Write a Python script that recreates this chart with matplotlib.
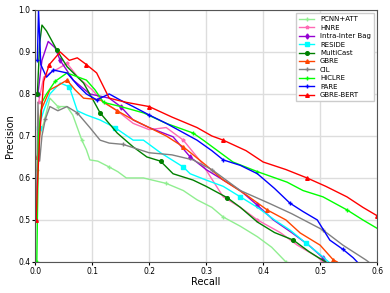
import matplotlib.pyplot as plt

# precision / recall points
pcnn_r = [0.004, 0.008, 0.015, 0.026, 0.04, 0.056, 0.066, 0.074, 0.082, 0.09, 0.096, 0.11, 0.13, 0.145, 0.16, 0.19, 0.23, 0.26, 0.284, 0.31, 0.33, 0.36, 0.39, 0.415, 0.44]
pcnn_p = [0.62, 0.70, 0.73, 0.79, 0.77, 0.77, 0.75, 0.72, 0.69, 0.667, 0.643, 0.64, 0.626, 0.615, 0.60, 0.60, 0.587, 0.57, 0.548, 0.53, 0.507, 0.485, 0.46, 0.435, 0.40]

hnre_r = [0.006, 0.015, 0.026, 0.04, 0.056, 0.075, 0.10, 0.12, 0.144, 0.172, 0.2, 0.23, 0.26, 0.29, 0.33, 0.36, 0.39, 0.43, 0.46, 0.495, 0.505]
hnre_p = [0.78, 0.84, 0.85, 0.86, 0.873, 0.84, 0.81, 0.78, 0.76, 0.73, 0.715, 0.72, 0.69, 0.64, 0.555, 0.53, 0.50, 0.47, 0.44, 0.412, 0.40]

iib_r = [0.005, 0.012, 0.023, 0.035, 0.044, 0.067, 0.096, 0.13, 0.15, 0.172, 0.2, 0.242, 0.272, 0.30, 0.33, 0.36, 0.39, 0.418, 0.45, 0.48, 0.505, 0.51]
iib_p = [0.80, 0.88, 0.925, 0.91, 0.88, 0.833, 0.80, 0.79, 0.77, 0.738, 0.72, 0.698, 0.65, 0.62, 0.595, 0.57, 0.535, 0.50, 0.47, 0.44, 0.41, 0.40]

reside_r = [0.006, 0.015, 0.026, 0.044, 0.06, 0.074, 0.09, 0.114, 0.14, 0.172, 0.19, 0.22, 0.26, 0.272, 0.30, 0.33, 0.36, 0.39, 0.42, 0.447, 0.475, 0.505, 0.515]
reside_p = [0.72, 0.76, 0.80, 0.826, 0.817, 0.76, 0.75, 0.738, 0.72, 0.69, 0.69, 0.66, 0.626, 0.61, 0.595, 0.58, 0.555, 0.53, 0.50, 0.476, 0.445, 0.412, 0.40]

mc_r = [0.004, 0.008, 0.012, 0.02, 0.038, 0.056, 0.085, 0.1, 0.114, 0.144, 0.172, 0.196, 0.22, 0.242, 0.277, 0.30, 0.337, 0.36, 0.39, 0.42, 0.453, 0.48, 0.495, 0.51]
mc_p = [0.80, 0.92, 0.964, 0.95, 0.905, 0.865, 0.826, 0.79, 0.755, 0.707, 0.674, 0.65, 0.64, 0.61, 0.595, 0.58, 0.553, 0.53, 0.495, 0.47, 0.452, 0.425, 0.412, 0.40]

gbre_r = [0.004, 0.01, 0.026, 0.04, 0.056, 0.07, 0.085, 0.114, 0.144, 0.17, 0.2, 0.23, 0.26, 0.3, 0.33, 0.37, 0.407, 0.44, 0.465, 0.5, 0.523, 0.53]
gbre_p = [0.65, 0.76, 0.81, 0.82, 0.833, 0.81, 0.79, 0.786, 0.76, 0.74, 0.72, 0.70, 0.674, 0.63, 0.595, 0.56, 0.524, 0.50, 0.469, 0.44, 0.405, 0.40]

cil_r = [0.002, 0.005, 0.008, 0.012, 0.018, 0.026, 0.04, 0.056, 0.074, 0.096, 0.114, 0.13, 0.154, 0.2, 0.24, 0.277, 0.31, 0.36, 0.41, 0.45, 0.505, 0.54, 0.58, 0.585]
cil_p = [0.50, 0.78, 0.64, 0.70, 0.74, 0.77, 0.76, 0.77, 0.755, 0.72, 0.69, 0.683, 0.68, 0.66, 0.655, 0.643, 0.62, 0.57, 0.54, 0.515, 0.476, 0.44, 0.405, 0.40]

hiclre_r = [0.003, 0.006, 0.012, 0.02, 0.035, 0.056, 0.09, 0.105, 0.12, 0.15, 0.19, 0.23, 0.277, 0.295, 0.32, 0.347, 0.39, 0.442, 0.47, 0.505, 0.547, 0.575, 0.6]
hiclre_p = [0.40, 0.70, 0.78, 0.80, 0.83, 0.85, 0.833, 0.81, 0.78, 0.77, 0.755, 0.73, 0.707, 0.69, 0.665, 0.638, 0.615, 0.59, 0.57, 0.555, 0.524, 0.50, 0.48]

pare_r = [0.004, 0.006, 0.01, 0.02, 0.032, 0.056, 0.075, 0.09, 0.108, 0.13, 0.15, 0.172, 0.2, 0.23, 0.284, 0.31, 0.33, 0.36, 0.39, 0.42, 0.447, 0.47, 0.495, 0.517, 0.54, 0.558, 0.565]
pare_p = [0.88, 1.0, 0.87, 0.84, 0.857, 0.85, 0.82, 0.80, 0.786, 0.80, 0.785, 0.77, 0.75, 0.73, 0.69, 0.665, 0.643, 0.63, 0.61, 0.575, 0.54, 0.52, 0.50, 0.452, 0.43, 0.41, 0.40]

bert_r = [0.002, 0.004, 0.008, 0.015, 0.025, 0.044, 0.06, 0.074, 0.09, 0.108, 0.13, 0.16, 0.2, 0.24, 0.284, 0.31, 0.33, 0.37, 0.40, 0.44, 0.477, 0.51, 0.547, 0.575, 0.6]
bert_p = [0.50, 0.58, 0.70, 0.83, 0.87, 0.90, 0.88, 0.886, 0.87, 0.85, 0.79, 0.78, 0.77, 0.745, 0.72, 0.70, 0.69, 0.665, 0.638, 0.62, 0.60, 0.58, 0.555, 0.53, 0.51]

models = [
    ('PCNN+ATT', pcnn_r, pcnn_p, 'lightgreen', '+'),
    ('HNRE', hnre_r, hnre_p, 'hotpink', '*'),
    ('Intra-Inter Bag', iib_r, iib_p, 'darkviolet', 'd'),
    ('RESIDE', reside_r, reside_p, 'cyan', 's'),
    ('MultiCast', mc_r, mc_p, 'green', 'o'),
    ('GBRE', gbre_r, gbre_p, 'orangered', '^'),
    ('CIL', cil_r, cil_p, 'gray', '+'),
    ('HiCLRE', hiclre_r, hiclre_p, 'lime', '+'),
    ('PARE', pare_r, pare_p, 'blue', '+'),
    ('GBRE-BERT', bert_r, bert_p, 'red', '^'),
]

fig = plt.figure(figsize=(3.9, 2.93), dpi=100)
ax = fig.add_axes([0.09, 0.106, 0.877, 0.86])

for name, r, p, c, m in models:
    ax.plot(r, p, color=c, lw=1, marker=m, markersize=2.6, markevery=4, label=name)

ax.set_xlim(0, 0.6)
ax.set_ylim(0.4, 1.0)
ax.grid(True, color='#dddddd', lw=1)
ax.set_axisbelow(True)
for s in ax.spines.values():
    s.set_color('#555555')
ax.tick_params(labelsize=5.5, length=2, pad=1.5)
ax.set_xlabel('Recall', fontsize=7, labelpad=1)
ax.set_ylabel('Precision', fontsize=7, labelpad=2)
ax.legend(loc='upper right', fontsize=5, handlelength=2.2, labelspacing=0.35,
          borderpad=0.4, fancybox=False, framealpha=1, edgecolor='#cccccc')

fig.savefig('out.png', dpi=100)
